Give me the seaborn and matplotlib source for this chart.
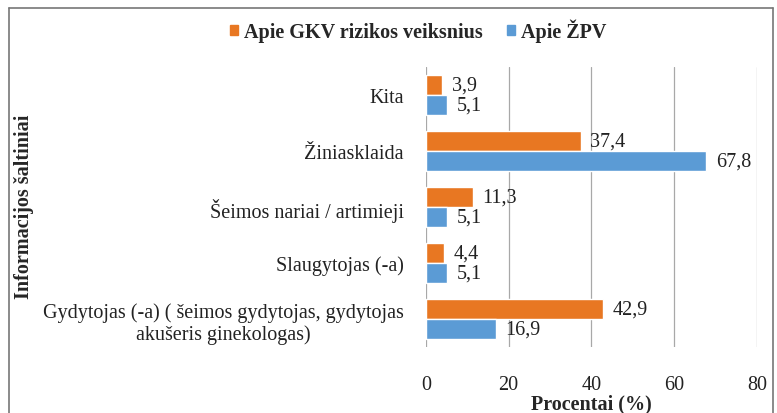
import pandas as pd
import matplotlib
matplotlib.use("Agg")
import matplotlib.pyplot as plt
import seaborn as sns
from matplotlib.lines import Line2D

# Data
categories = ["Kita", "Žiniasklaida", "Šeimos nariai / artimieji", "Slaugytojas (-a)",
              "Gydytojas (-a) ( šeimos gydytojas, gydytojas\nakušeris ginekologas)"]
series_names = ["Apie GKV rizikos veiksnius", "Apie ŽPV"]
gkv_values = [3.9, 37.4, 11.3, 4.4, 42.9]
zpv_values = [5.1, 67.8, 5.1, 5.1, 16.9]
colors = ["#E87722", "#5B9BD5"]

df = pd.DataFrame({
    "Saltinis": categories * 2,
    "Serija": [series_names[0]] * len(categories) + [series_names[1]] * len(categories),
    "Procentai": gkv_values + zpv_values,
})

sns.set_style("white")
plt.rcParams["font.family"] = ["Liberation Serif", "DejaVu Serif"]
fs = 14.5

fig = plt.figure(figsize=(7.77, 4.14), dpi=100)
ax = fig.add_axes([0.548, 0.159, 0.426, 0.677])

sns.barplot(data=df, y="Saltinis", x="Procentai", hue="Serija", order=categories,
            hue_order=series_names, palette=colors, width=0.72, orient="h",
            saturation=1, ax=ax, legend=False)

# value labels with decimal comma
for cont in ax.containers:
    labels = [f"{v:.1f}".replace(".", ",") for v in cont.datavalues]
    ax.bar_label(cont, labels=labels, padding=7, fontsize=fs, color="#222222")

ax.set_xlim(0, 80)
ax.set_xticks([0, 20, 40, 60, 80])
ax.grid(axis="x", color="#a8a8a8", linewidth=0.9)
ax.grid(axis="y", visible=False)
for s in ax.spines.values():
    s.set_visible(False)
ax.tick_params(axis="both", length=0, labelsize=fs, colors="#222222")
ax.tick_params(axis="y", pad=16)
ax.tick_params(axis="x", pad=20)
for t in ax.get_yticklabels():
    t.set_multialignment("center")

ax.set_xlabel("Procentai (%)", fontsize=fs, fontweight="bold", labelpad=0)
ax.set_ylabel("")
fig.text(0.031, 0.5, "Informacijos šaltiniai", rotation=90, fontsize=fs,
         fontweight="bold", ha="center", va="center")

# legend on top
handles = [plt.Rectangle((0, 0), 1, 1, color=c) for c in colors]
fig.legend(handles, series_names, loc="center", bbox_to_anchor=(0.538, 0.925), ncol=2,
           frameon=False, prop={"weight": "bold", "size": fs}, handlelength=0.4,
           handleheight=0.4, handletextpad=0.3, columnspacing=1.2)

# outer frame (bottom edge falls outside the image)
fx0, fx1, fy1 = 9 / 777, 773 / 777, 1 - 9 / 414
for xs, ys in [([fx0, fx1], [fy1, fy1]), ([fx0, fx0], [-0.1, fy1]), ([fx1, fx1], [-0.1, fy1])]:
    fig.add_artist(Line2D(xs, ys, color="#777777", linewidth=1.2, transform=fig.transFigure))

fig.savefig("out.png", dpi=100)
